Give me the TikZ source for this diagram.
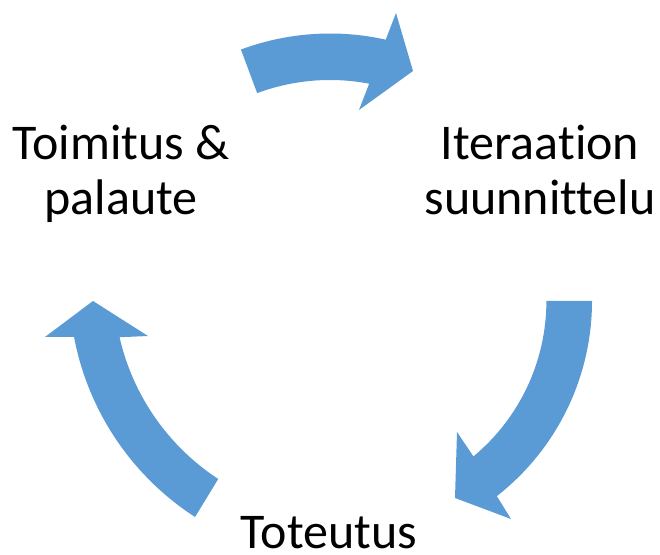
\documentclass[tikz,border=0pt]{standalone}
\usepackage{fontspec}
\setmainfont{Carlito}[Ligatures={NoCommon,NoRequired,NoContextual}, Contextuals=NoAlternate]
\definecolor{arrowblue}{RGB}{91,155,213}
% keep "t" and "i" as separate glyphs
\newcommand\plainti{t\kern0pt i}
\begin{document}
\begin{tikzpicture}[x=1pt,y=1pt,
  cyclearrow/.style={fill=arrowblue},
  steptext/.style={font=\fontsize{50}{55}\selectfont, align=center, inner sep=0pt, anchor=base}]
\useasboundingbox (0,0) rectangle (660,554);

% centres of the three curved arrows
\coordinate (c1) at (330,265);
\coordinate (c2) at (344.4,253);
\coordinate (c3) at (344.7,268.3);

% top arrow: left label -> right label
\fill[cyclearrow] ([shift={(110.4:255.5)}]c1) arc[start angle=110.4, end angle=77.4, radius=255.5]
  -- (396,541) -- (413,483) -- (359,444)
  -- ([shift={(79.2:209)}]c1) arc[start angle=79.2, end angle=110.4, radius=209] -- cycle;

% right arrow: right label -> bottom label
\fill[cyclearrow] ([shift={(0:247.6)}]c2) arc[start angle=0, end angle=-52, radius=247.6]
  -- (511,35) -- (455,56) -- (457,122)
  -- ([shift={(-50.3:202)}]c2) arc[start angle=-50.3, end angle=0, radius=202] -- cycle;

% left arrow: bottom label -> left label
\fill[cyclearrow] ([shift={(237.1:275.5)}]c3) arc[start angle=237.1, end angle=190.7, radius=275.5]
  -- (45,217) -- (93,253) -- (148,218)
  -- ([shift={(192.9:231)}]c3) arc[start angle=192.9, end angle=236.8, radius=231] -- cycle;

% step labels (base anchor sits on the last line)
\node[steptext] (plan) at (540,339) {Iteraa\plainti on\\suunnittelu};
\node[steptext] (build) at (329,6) {Toteutus};
\node[steptext] (deliver) at (121,339) {Toimitus \&\\palaute};
\end{tikzpicture}
\end{document}
